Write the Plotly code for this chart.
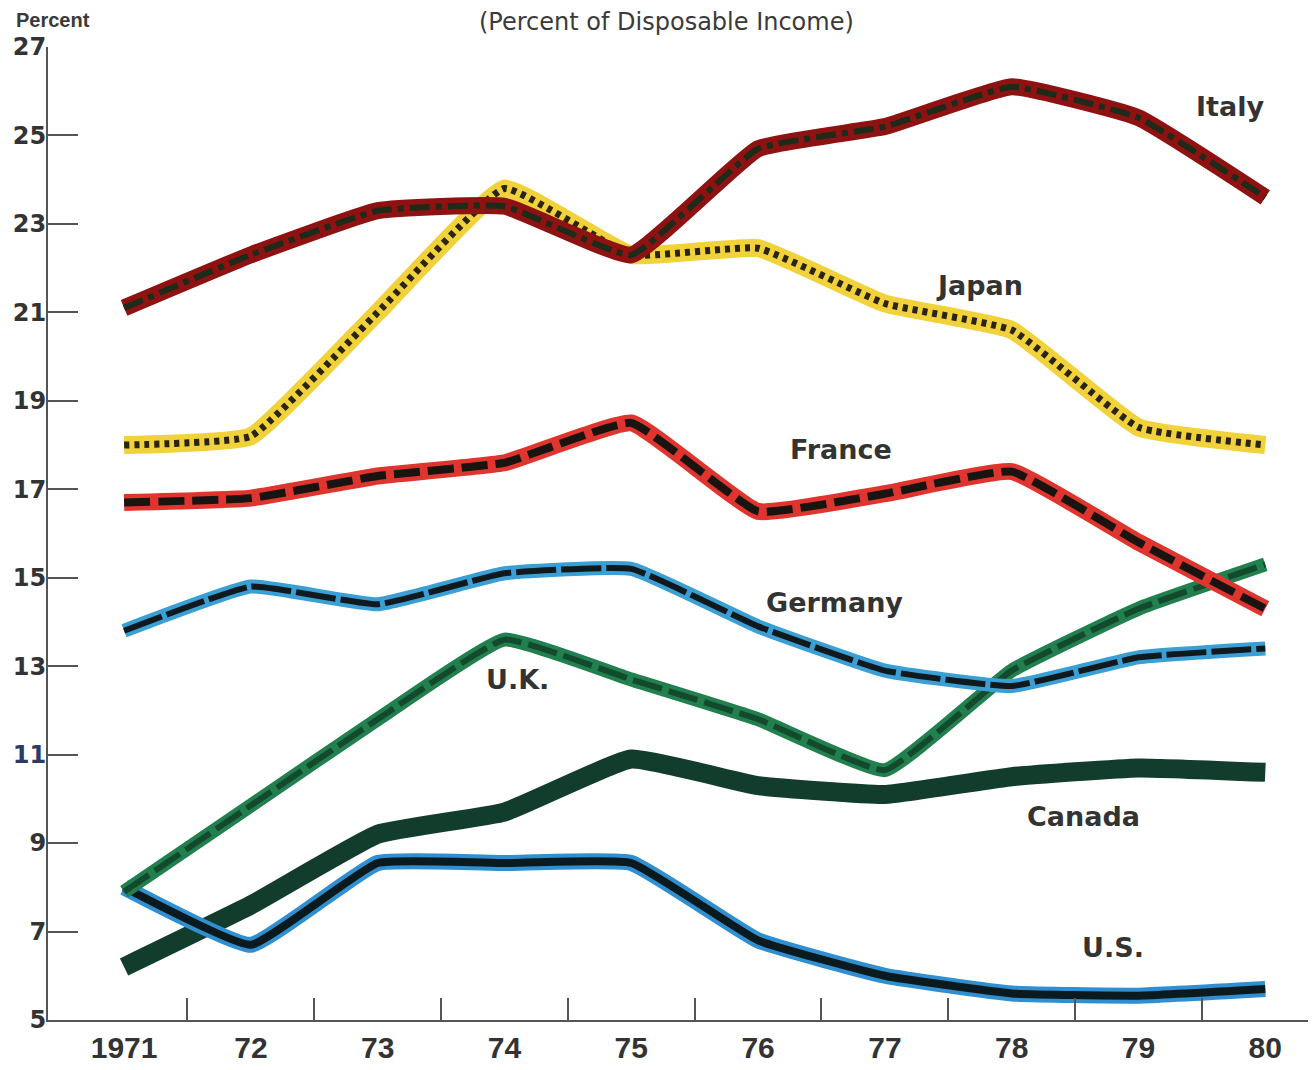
import plotly.graph_objects as go

years = [1971, 1972, 1973, 1974, 1975, 1976, 1977, 1978, 1979, 1980]
year_labels = ["1971", "72", "73", "74", "75", "76", "77", "78", "79", "80"]

italy = [21.1, 22.3, 23.3, 23.4, 22.3, 24.7, 25.2, 26.1, 25.4, 23.6]
japan = [18.0, 18.2, 21.0, 23.8, 22.3, 22.45, 21.2, 20.6, 18.4, 18.0]
france = [16.7, 16.8, 17.3, 17.6, 18.5, 16.5, 16.9, 17.4, 15.8, 14.3]
germany = [13.8, 14.8, 14.4, 15.1, 15.2, 13.9, 12.9, 12.55, 13.2, 13.4]
uk = [7.9, 9.85, 11.8, 13.6, 12.7, 11.8, 10.65, 12.9, 14.3, 15.3]
canada = [6.2, 7.6, 9.2, 9.7, 10.9, 10.3, 10.1, 10.5, 10.7, 10.6]
us = [8.0, 6.7, 8.55, 8.55, 8.55, 6.8, 6.0, 5.6, 5.55, 5.7]

y_ticks = [5, 7, 9, 11, 13, 15, 17, 19, 21, 23, 25, 27]
# the "11" is printed in a bluish ink in the original
y_tick_text = [f'<span style="color:#2c3a66">{v}</span>' if v == 11 else str(v) for v in y_ticks]

# name, values, outer colour, outer width, inner colour, inner width, inner dash
series = [
    ("Canada", canada, "#123d2c", 19, None, 0, None),
    ("U.S.", us, "#2f8fd0", 16, "#0b1a1e", 8, "solid"),
    ("U.K.", uk, "#22804f", 14, "#134a2e", 6, "30px,7px"),
    ("Germany", germany, "#3a9fd4", 14, "#101a1e", 6, "40px,5px"),
    ("France", france, "#e0352e", 17, "#1a1410", 8, "26px,8px"),
    ("Japan", japan, "#f2d23a", 18, "#2a2410", 7, "5px,5px"),
    ("Italy", italy, "#8e1212", 17, "#1f2a18", 6, "20px,6px,6px,6px"),
]

fig = go.Figure()

for name, vals, col, w, icol, iw, dash in series:
    fig.add_trace(go.Scatter(
        x=years, y=vals, mode="lines", name=name,
        line=dict(color=col, width=w, shape="spline", smoothing=0.35),
        hoverinfo="skip"
    ))
    if icol:
        fig.add_trace(go.Scatter(
            x=years, y=vals, mode="lines", name=name,
            line=dict(color=icol, width=iw, dash=dash, shape="spline", smoothing=0.35),
            hoverinfo="skip"
        ))

# series labels
labels = [
    ("Italy", 1979.72, 25.65),
    ("Japan", 1977.75, 21.6),
    ("France", 1976.65, 17.9),
    ("Germany", 1976.6, 14.45),
    ("U.K.", 1974.1, 12.7),
    ("Canada", 1978.57, 9.6),
    ("U.S.", 1978.8, 6.65),
]
for txt, x, y in labels:
    fig.add_annotation(x=x, y=y, text=txt, showarrow=False,
                       font=dict(family="DejaVu Sans", size=27, color="#333333", weight="bold"))

fig.add_annotation(xref="paper", yref="paper", x=0.488, y=1.0, yshift=25, yanchor="middle",
                   text="(Percent of Disposable Income)", showarrow=False,
                   font=dict(family="DejaVu Sans", size=24, color="#3a3a3a"))
fig.add_annotation(xref="paper", yref="paper", x=-0.027, y=1.0, yshift=14,
                   xanchor="left", yanchor="bottom",
                   text="Percent", showarrow=False,
                   font=dict(family="Liberation Sans", size=20, color="#3a3a3a", weight="bold"))

# the page body adds an 8px offset, so the figure is 8px smaller than the window
fig.update_layout(
    width=1308, height=1062,
    paper_bgcolor="white", plot_bgcolor="white",
    margin=dict(l=40, r=0, t=39, b=50),
    showlegend=False,
    xaxis=dict(
        range=[1970.4, 1980.4], automargin=False,
        tickvals=years, ticktext=year_labels, ticks="",
        tickfont=dict(family="Liberation Sans", size=30, color="#333333", weight="bold"),
        showgrid=False, zeroline=False,
        showline=True, linecolor="#555", linewidth=2, mirror=False,
        minor=dict(tickvals=[y + 0.5 for y in years[:-1]], ticks="inside",
                   ticklen=22, tickcolor="#555", tickwidth=2, showgrid=False),
    ),
    yaxis=dict(
        range=[5, 27], automargin=False,
        tickvals=y_ticks, ticktext=y_tick_text, ticks="inside", ticklen=30,
        tickcolor="#555", tickwidth=2,
        tickfont=dict(family="DejaVu Sans", size=24, color="#333333", weight="bold"),
        showgrid=False, zeroline=False,
        showline=True, linecolor="#555", linewidth=2, mirror=True,
    ),
)
fig.update_yaxes(ticklabelstandoff=-5)

fig.write_html("out.html")
